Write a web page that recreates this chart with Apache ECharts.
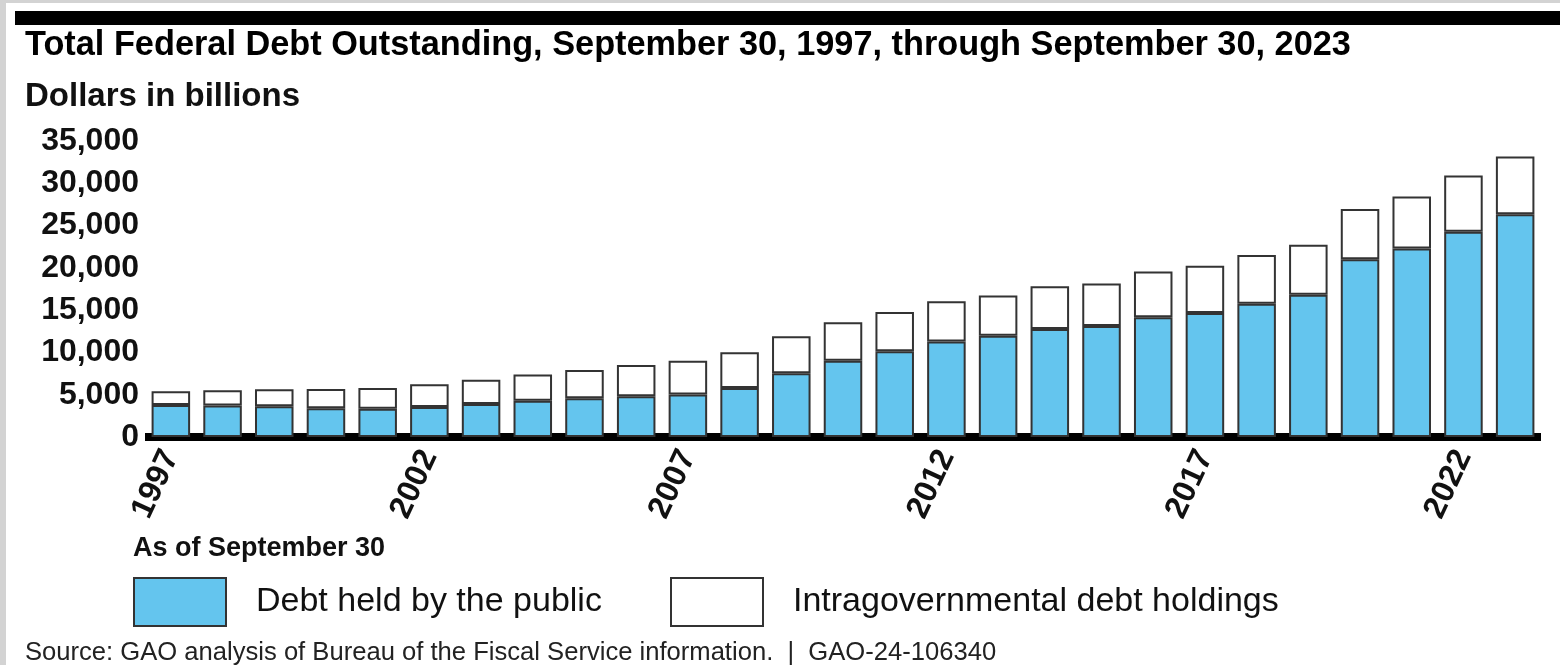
<!DOCTYPE html>
<html>
<head>
<meta charset="utf-8">
<script src="https://cdn.jsdelivr.net/npm/echarts@6/dist/echarts.min.js"></script>
<style>
  html, body { margin: 0; padding: 0; background: #fff; }
  #chart { width: 1560px; height: 665px; }
</style>
</head>
<body>
<div id="chart"></div>
<script>
// Sep 30 of each year, dollars in billions
const years = ["1997", "1998", "1999", "2000", "2001", "2002", "2003", "2004", "2005",
  "2006", "2007", "2008", "2009", "2010", "2011", "2012", "2013", "2014", "2015",
  "2016", "2017", "2018", "2019", "2020", "2021", "2022", "2023"];

const publicDebt = [3789, 3733, 3636, 3405, 3339, 3553, 3913, 4296, 4592,
  4829, 5035, 5803, 7552, 9023, 10128, 11281, 11983, 12780, 13124,
  14173, 14673, 15761, 16809, 21017, 22282, 24257, 26330];

const intragovDebt = [1624, 1793, 2020, 2269, 2468, 2675, 2870, 3083, 3341,
  3678, 3973, 4222, 4358, 4539, 4662, 4785, 4755, 5044, 5027,
  5400, 5572, 5755, 5910, 5928, 6147, 6672, 6837];

const yTicks = [0, 5000, 10000, 15000, 20000, 25000, 30000, 35000];

const BLUE = "#64c5ee";
const EDGE = "#333333";
const SANS = "'Liberation Sans', Arial, sans-serif";
const NARROW = "'Liberation Sans Narrow', 'Arial Narrow', 'Liberation Sans', sans-serif";

const chart = echarts.init(document.getElementById("chart"));

chart.setOption({
  animation: false,
  backgroundColor: "#fff",
  graphic: [
    // grey frame of the original image and the black banner
    { type: "rect", left: 0, top: 0, shape: { width: 1560, height: 3 }, style: { fill: "#d3d3d3" } },
    { type: "rect", left: 0, top: 0, shape: { width: 6, height: 665 }, style: { fill: "#d3d3d3" } },
    { type: "rect", left: 15, top: 11, shape: { width: 1545, height: 14 }, style: { fill: "#000" } }
  ],
  title: [
    {
      text: "Total Federal Debt Outstanding, September 30, 1997, through September 30, 2023",
      left: 25, top: 29, padding: 0,
      textStyle: { fontFamily: SANS, fontWeight: "bold", fontSize: 34.3, lineHeight: 34, color: "#000" }
    },
    {
      text: "Dollars in billions",
      left: 25, top: 80, padding: 0,
      textStyle: { fontFamily: SANS, fontWeight: "bold", fontSize: 33, lineHeight: 33, color: "#111" }
    },
    {
      text: "As of September 30",
      left: 133, top: 535, padding: 0,
      textStyle: { fontFamily: NARROW, fontWeight: "bold", fontSize: 27, lineHeight: 27, color: "#111" }
    },
    {
      text: "Source: GAO analysis of Bureau of the Fiscal Service information.  |  GAO-24-106340",
      left: 25, top: 640, padding: 0,
      textStyle: { fontFamily: SANS, fontWeight: "normal", fontSize: 25.6, lineHeight: 25, color: "#222" }
    }
  ],
  legend: [
    {
      data: [{ name: "Debt held by the public", itemStyle: { color: BLUE, borderColor: EDGE, borderWidth: 2 } }],
      left: 133, top: 577, padding: 0,
      icon: "rect", itemWidth: 92, itemHeight: 48,
      selectedMode: false,
      textStyle: { fontFamily: NARROW, fontSize: 34, color: "#111", padding: [0, 0, 0, 25] }
    },
    {
      data: [{ name: "Intragovernmental debt holdings", itemStyle: { color: "#fff", borderColor: EDGE, borderWidth: 2 } }],
      left: 670, top: 577, padding: 0,
      icon: "rect", itemWidth: 92, itemHeight: 48,
      selectedMode: false,
      textStyle: { fontFamily: NARROW, fontSize: 34, color: "#111", padding: [0, 0, 0, 25] }
    }
  ],
  grid: { left: 145, right: 19, top: 141, bottom: 228, containLabel: false },
  xAxis: {
    type: "category",
    data: years,
    axisLine: { show: true, lineStyle: { color: "#000", width: 8, cap: "butt" } },
    axisTick: { show: false },
    axisLabel: {
      interval: 4,
      rotate: 65,
      margin: 15,
      fontFamily: NARROW,
      fontWeight: "bold",
      fontSize: 32,
      color: "#111"
    }
  },
  yAxis: {
    type: "value",
    min: yTicks[0],
    max: yTicks[yTicks.length - 1],
    interval: yTicks[1] - yTicks[0],
    axisLine: { show: false },
    axisTick: { show: false },
    splitLine: { show: false },
    axisLabel: {
      margin: 6,
      fontFamily: SANS,
      fontWeight: "bold",
      fontSize: 32,
      color: "#111",
      formatter: (v) => v.toLocaleString("en-US")
    }
  },
  series: [
    {
      name: "Debt held by the public",
      type: "bar",
      stack: "debt",
      data: publicDebt,
      barWidth: "74.5%",
      itemStyle: { color: BLUE, borderColor: EDGE, borderWidth: 2 }
    },
    {
      name: "Intragovernmental debt holdings",
      type: "bar",
      stack: "debt",
      data: intragovDebt,
      itemStyle: { color: "#fff", borderColor: EDGE, borderWidth: 2 }
    }
  ]
});
</script>
</body>
</html>
